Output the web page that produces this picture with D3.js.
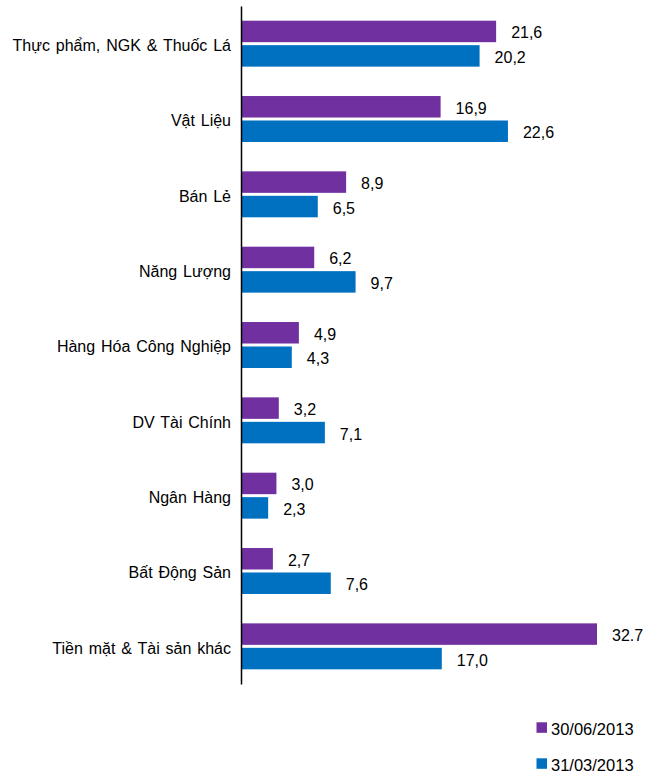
<!DOCTYPE html>
<html>
<head>
<meta charset="utf-8">
<script src="https://cdn.jsdelivr.net/npm/d3@7"></script>
<style>
    body { margin: 0; background: #fff; }
    svg { display: block; font-family: "Liberation Sans", Arial, sans-serif; }
</style>
</head>
<body>
<svg id="chart-area"></svg>
<script>
// data
const categories = ["Thực phẩm, NGK & Thuốc Lá", "Vật Liệu", "Bán Lẻ", "Năng Lượng",
    "Hàng Hóa Công Nghiệp", "DV Tài Chính", "Ngân Hàng", "Bất Động Sản", "Tiền mặt & Tài sản khác"]
const seriesNames = ["30/06/2013", "31/03/2013"]
const valuesJun = [21.6, 16.9, 8.9, 6.2, 4.9, 3.2, 3.0, 2.7, 32.7]
const valuesMar = [20.2, 22.6, 6.5, 9.7, 4.3, 7.1, 2.3, 7.6, 17.0]
const labelsJun = ["21,6", "16,9", "8,9", "6,2", "4,9", "3,2", "3,0", "2,7", "32.7"]
const labelsMar = ["20,2", "22,6", "6,5", "9,7", "4,3", "7,1", "2,3", "7,6", "17,0"]
const colors = ["#7030A0", "#0070C0"]

function drawBars() {
    const width = 657
    const height = 774

    const svg = d3.select("#chart-area")
        .attr("width", width)
        .attr("height", height)

    // the last bar is cut at the plot edge, like the original
    const x = d3.scaleLinear()
        .domain([0, 30.14])
        .range([241, 597])
        .clamp(true)

    const y = d3.scaleBand()
        .domain(categories)
        .range([6, 684])
        .paddingInner(0.39)
        .paddingOuter(0.195)

    const inner = d3.scaleBand()
        .domain(seriesNames)
        .range([0, y.bandwidth()])
        .paddingInner(0.122)

    const rows = []
    categories.forEach((c, i) => {
        rows.push({ cat: c, series: seriesNames[0], value: valuesJun[i], label: labelsJun[i] })
        rows.push({ cat: c, series: seriesNames[1], value: valuesMar[i], label: labelsMar[i] })
    })

    svg.selectAll(".bar")
        .data(rows)
        .enter().append("rect")
        .attr("class", "bar")
        .attr("x", x(0))
        .attr("y", d => y(d.cat) + inner(d.series))
        .attr("width", d => x(d.value) - x(0))
        .attr("height", inner.bandwidth())
        .attr("fill", d => colors[seriesNames.indexOf(d.series)])

    svg.selectAll(".value")
        .data(rows)
        .enter().append("text")
        .attr("class", "value")
        .attr("x", d => x(d.value) + 15)
        .attr("y", d => y(d.cat) + inner(d.series) + inner.bandwidth() / 2 + 7)
        .attr("font-size", 16)
        .attr("fill", "#000")
        .text(d => d.label)

    // category axis
    const axis = svg.append("g")
        .attr("transform", `translate(${x(0)},0)`)
        .call(d3.axisLeft(y).tickSize(0).tickPadding(10))

    axis.select(".domain")
        .attr("stroke", "#000")
        .attr("stroke-width", 1.5)

    axis.selectAll("text")
        .attr("font-size", 16)
        .attr("font-family", "\"Liberation Sans\", Arial, sans-serif")
        .attr("word-spacing", "1.4px")
        .attr("fill", "#000")
        .attr("dy", "0.45em")

    // legend
    const legend = svg.selectAll(".legend")
        .data(seriesNames)
        .enter().append("g")
        .attr("class", "legend")
        .attr("transform", (d, i) => `translate(536.5,${722.3 + i * 36})`)

    legend.append("rect")
        .attr("width", 10.5)
        .attr("height", 10.5)
        .attr("fill", (d, i) => colors[i])

    legend.append("text")
        .attr("x", 14.5)
        .attr("y", 12.5)
        .attr("font-size", 16.5)
        .attr("fill", "#000")
        .text(d => d)
}

drawBars()
</script>
</body>
</html>
